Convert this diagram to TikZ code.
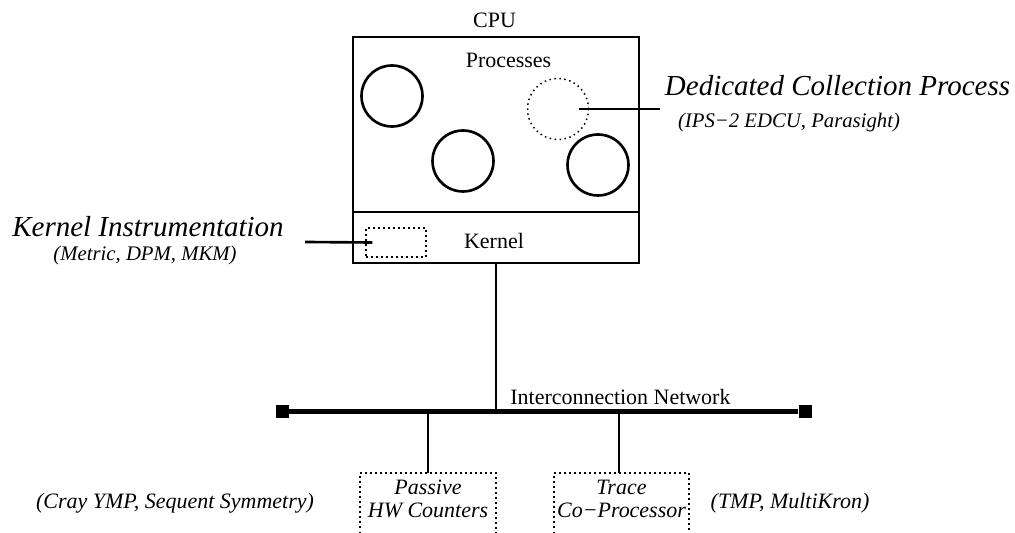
\documentclass[tikz,border=0pt]{standalone}
\usepackage{fontspec}
\setmainfont{Liberation Serif}
\usetikzlibrary{calc}

\newcommand\lblsize{\fontsize{12.5}{13.1}\selectfont}
\newcommand\bigsize{\fontsize{16.5}{18}\selectfont}
\newcommand\notesize{\fontsize{11.8}{13}\selectfont}

\begin{document}
\begin{tikzpicture}[x=0.02cm,y=-0.02cm,
    proc/.style={circle,draw,line width=1.5pt,minimum size=1.22cm,inner sep=0pt},
    collproc/.style={circle,draw,dotted,line width=0.85pt,minimum size=1.22cm,inner sep=0pt},
    region/.style={rectangle,draw,line width=1.5pt,minimum width=5.72cm,inner sep=0pt},
    dotbox/.style={draw,dotted,line width=0.85pt},
    termsq/.style={rectangle,fill=black,minimum size=0.26cm,inner sep=0pt},
    lbl/.style={font=\lblsize,inner sep=0pt},
    biglbl/.style={font=\bigsize\itshape,inner sep=0pt,anchor=base},
    note/.style={font=\notesize\itshape,inner sep=0pt,anchor=base},
    wire/.style={line width=1.5pt}]

\useasboundingbox (0,0) rectangle (1015,533);

%cpu regions
\node[region,minimum height=3.5cm]  (procs)  at (496,124.5) {};
\node[region,minimum height=1.02cm] (kernel) at (496,237.5) {};
\node[lbl] (cpulbl)  at (494.5,20.5) {CPU};
\node[lbl] (proclbl) at (508.5,60.5) {Processes};
\node[lbl] (kernlbl) at (494,241)    {Kernel};

%processes
\node[proc]     (p1)    at (392,96)  {};
\node[proc]     (p2)    at (463,161) {};
\node[collproc] (collp) at (558,109) {};
\node[proc]     (p4)    at (598,165) {};

%kernel instrumentation box
\node[dotbox,minimum width=1.2cm,minimum height=0.58cm,inner sep=0pt] (kbox) at (396,242.5) {};

%label texts
\node[biglbl] (dcp)      at (837.5,96) {Dedicated Collection Process};
\node[note]   (dcpnote)  at (789,128)  {(IPS−2 EDCU, Parasight)};
\node[biglbl] (kinst)    at (148,237)  {Kernel Instrumentation};
\node[note]   (kinstnote) at (145,261) {(Metric, DPM, MKM)};

%pointer lines
\coordinate (collin) at ($(collp.center)+(21,0)$);
\coordinate (dcpend) at (660,109);
\draw[wire] (collin) -- (dcpend);
\coordinate (kin)   at ($(kbox.west)+(7,0)$);
\coordinate (kiend) at (305,242);
\draw[wire] (kiend) -- (kin);

%interconnection network
\node[termsq] (lend) at (282.5,411.5) {};
\node[termsq] (rend) at (805,411.5)   {};
\draw[line width=2.3pt] (lend) -- (rend);
\node[lbl,anchor=base west] (netlbl) at (510,405) {Interconnection Network};
\draw[wire] (kernel.south) -- (kernel.south |- lend);

%monitoring hardware
\coordinate (hwtop) at (428,473);
\coordinate (trtop) at (619,473);
\draw[wire] (hwtop |- lend) -- (hwtop);
\draw[wire] (trtop |- lend) -- (trtop);
\draw[dotbox] (360,533) |- (hwtop) -| (496,533);
\draw[dotbox] (554,533) |- (trtop) -| (689,533);
\node[lbl,font=\lblsize\itshape,align=center] (passive) at (428,499)   {Passive\\HW Counters};
\node[lbl,font=\lblsize\itshape,align=center] (trace)   at (621.5,499) {Trace\\Co−Processor};

%examples
\node[note,font=\lblsize\itshape] (craynote) at (175,509) {(Cray YMP, Sequent Symmetry)};
\node[note,font=\lblsize\itshape] (tmpnote)  at (790,509) {(TMP, MultiKron)};

\end{tikzpicture}
\end{document}
